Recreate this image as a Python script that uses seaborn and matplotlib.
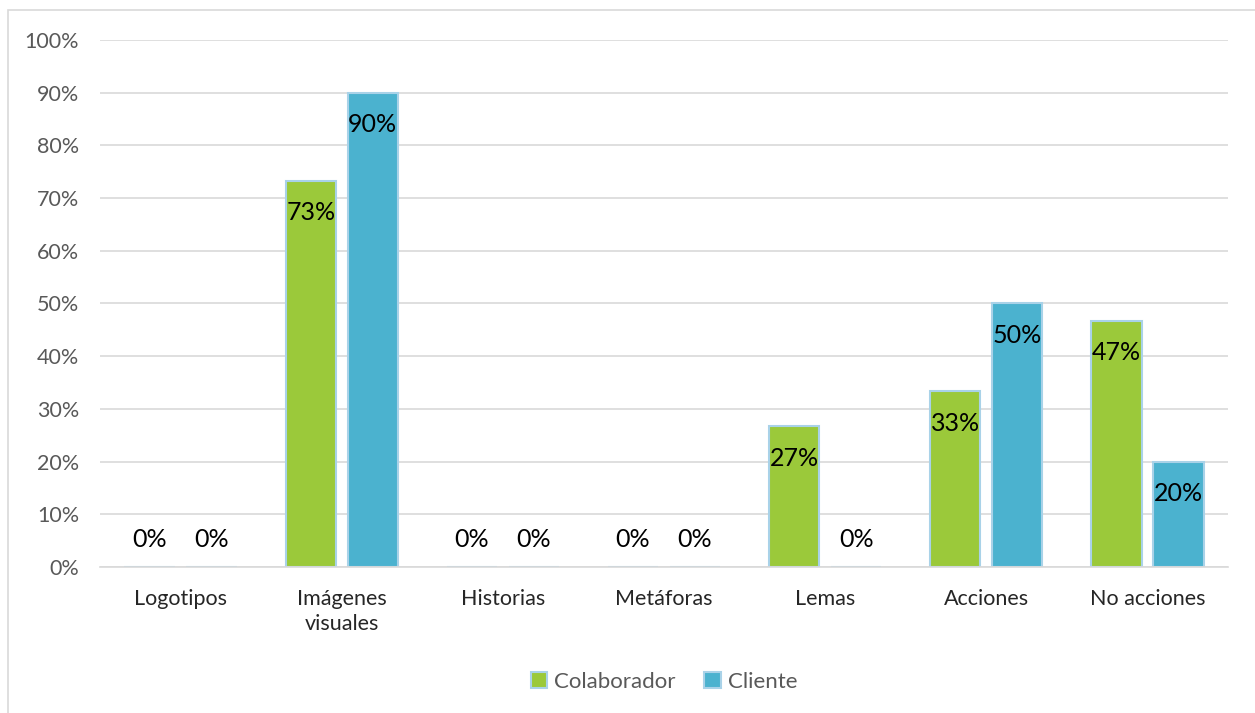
import matplotlib
matplotlib.use("Agg")
import matplotlib.pyplot as plt
import seaborn as sns
import pandas as pd
from matplotlib.patches import Rectangle

categories = ["Logotipos", "Imágenes\nvisuales", "Historias", "Metáforas", "Lemas", "Acciones", "No acciones"]
colaborador = [0, 73.3, 0, 0, 26.7, 33.3, 46.7]
cliente = [0, 90, 0, 0, 0, 50, 20]
series_names = ["Colaborador", "Cliente"]
yticks = list(range(0, 101, 10))

df = pd.DataFrame({
    "cat": categories * 2,
    "val": colaborador + cliente,
    "serie": [series_names[0]] * len(categories) + [series_names[1]] * len(categories),
})

sns.set_theme(style="white")
plt.rcParams["font.family"] = ["Lato", "DejaVu Sans"]

fig = plt.figure(figsize=(12.55, 7.13), dpi=100)
ax = fig.add_axes([0.0797, 0.2048, 0.8988, 0.7391])

palette = {"Colaborador": "#9BC93A", "Cliente": "#4BB2CF"}
sns.barplot(data=df, x="cat", y="val", hue="serie", palette=palette, ax=ax,
            width=0.77, gap=0.19, edgecolor="#A9D2E8", linewidth=1.5, saturation=1,
            order=categories, hue_order=series_names, legend=True)

ax.set_ylim(0, 100)
ax.set_xlim(-0.5, len(categories) - 0.5)
ax.set_yticks(yticks)
ax.set_yticklabels([f"{t}%" for t in yticks], color="#595959", fontsize=15.5)
ax.tick_params(axis="x", labelsize=15.5, length=0, pad=16)
ax.tick_params(axis="y", length=0, pad=15)
for lbl in ax.get_xticklabels():
    lbl.set_color("#262626")
    lbl.set_linespacing(1.3)
ax.set_xlabel("")
ax.set_ylabel("")
ax.yaxis.grid(True, color="#D9D9D9", linewidth=1.2)
ax.set_axisbelow(True)
for s in ["top", "right", "left"]:
    ax.spines[s].set_visible(False)
ax.spines["bottom"].set_color("#D9D9D9")
ax.spines["bottom"].set_linewidth(1.2)

for cont in ax.containers:
    for bar in cont:
        h = bar.get_height()
        xc = bar.get_x() + bar.get_width() / 2
        if h > 0:
            ax.annotate(f"{h:.0f}%", (xc, h), xytext=(0, -23), textcoords="offset points",
                        ha="center", va="center", fontsize=18, color="black")
        else:
            ax.annotate(f"{h:.0f}%", (xc, 0), xytext=(0, 19.5), textcoords="offset points",
                        ha="center", va="center", fontsize=18, color="black")

leg = ax.legend(loc="center", bbox_to_anchor=(0.5, -0.218), ncol=2, frameon=False,
                fontsize=16, handlelength=0.75, handleheight=0.75, handletextpad=0.3,
                columnspacing=1.3)
for t in leg.get_texts():
    t.set_color("#595959")

fig.patches.append(Rectangle((8 / 1255, -0.01), 1.02, 1 - 10 / 713 + 0.01, transform=fig.transFigure,
                             fill=False, edgecolor="#D9D9D9", linewidth=1.2))

fig.savefig("out.png", dpi=100)
